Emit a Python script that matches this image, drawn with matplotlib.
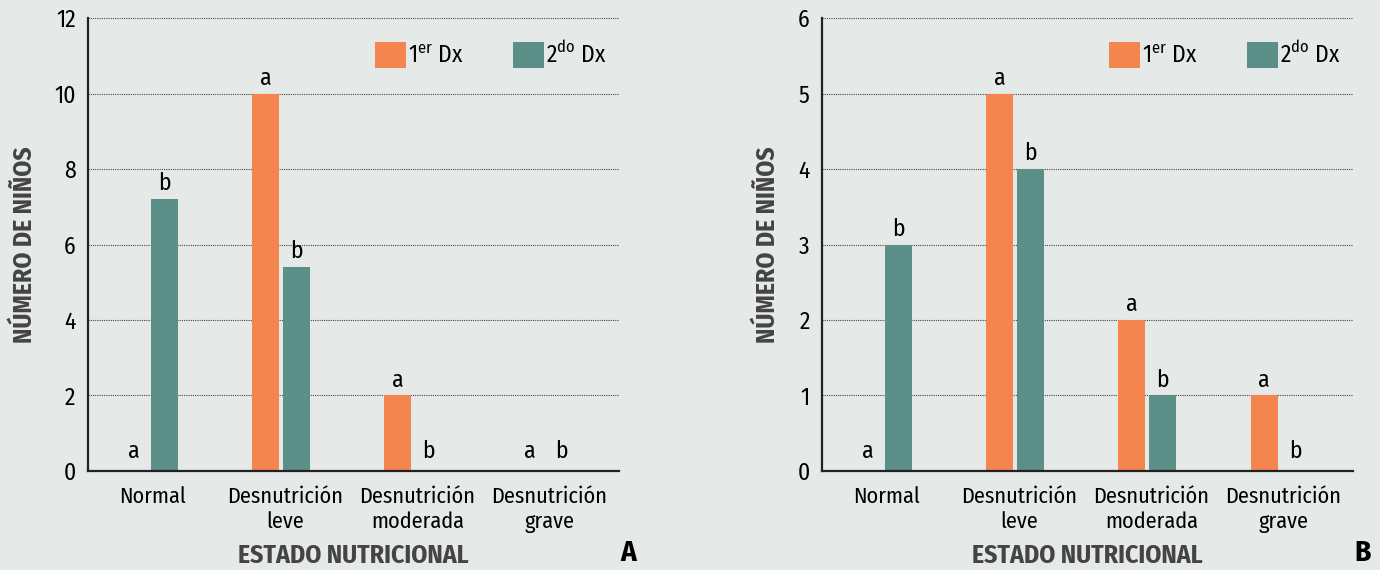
import matplotlib
matplotlib.use("Agg")
import matplotlib.pyplot as plt
import numpy as np

# data
categories = ["Normal", "Desnutrición\nleve", "Desnutrición\nmoderada", "Desnutrición\ngrave"]
a_primer = [0, 10, 2, 0]
a_segundo = [7.2, 5.4, 0, 0]
b_primer = [0, 5, 2, 1]
b_segundo = [3, 4, 1, 0]
letras_primer = ["a", "a", "a", "a"]
letras_segundo = ["b", "b", "b", "b"]
a_yticks = [0, 2, 4, 6, 8, 10, 12]
b_yticks = [0, 1, 2, 3, 4, 5, 6]
series_labels = ["1$^{\\mathrm{er}}$ Dx", "2$^{\\mathrm{do}}$ Dx"]

BG = "#e5e9e7"
ORANGE = "#f5854f"
TEAL = "#5c8f87"
FONT = ["Fira Sans Condensed", "Roboto Condensed", "PT Sans Narrow", "Liberation Sans", "DejaVu Sans"]

plt.rcParams["font.family"] = FONT
plt.rcParams["mathtext.fontset"] = "custom"
plt.rcParams["mathtext.rm"] = "Fira Sans Condensed"


def draw_panel(ax, primer, segundo, yticks, panel_letter, letter_x):
    x = np.arange(len(categories))
    width = 0.204
    off = 0.117
    ax.set_facecolor(BG)
    b1 = ax.bar(x - off, primer, width, color=ORANGE, label=series_labels[0], zorder=3)
    b2 = ax.bar(x + off, segundo, width, color=TEAL, label=series_labels[1], zorder=3)
    for xi, v, t in zip(x - off, primer, letras_primer):
        ax.annotate(t, (xi, v), xytext=(0, 6 if v == 0 else 3), textcoords="offset points",
                    ha="center", va="bottom", fontsize=17)
    for xi, v, t in zip(x + off, segundo, letras_segundo):
        ax.annotate(t, (xi, v), xytext=(0, 6 if v == 0 else 3), textcoords="offset points",
                    ha="center", va="bottom", fontsize=17)

    ax.set_xlim(-0.46, 3.556)
    ax.set_ylim(0, yticks[-1])
    ax.set_yticks(yticks)
    ax.set_xticks(x + 0.03)
    ax.set_xticklabels(categories, fontsize=16, linespacing=1.2)
    ax.tick_params(axis="y", length=0, pad=9, labelsize=17)
    ax.tick_params(axis="x", length=0, pad=11)
    ax.yaxis.grid(True, linestyle=(0, (1, 1)), color="#444444", lw=0.8)
    ax.set_axisbelow(True)
    for s in ["top", "right"]:
        ax.spines[s].set_visible(False)
    for s in ["left", "bottom"]:
        ax.spines[s].set_linewidth(1.6)
        ax.spines[s].set_color("#222222")
        ax.spines[s].set_zorder(4)

    ax.set_ylabel("NÚMERO DE NIÑOS", fontsize=18.5, fontweight="bold", color="#444444", labelpad=12)
    ax.set_xlabel("ESTADO NUTRICIONAL", fontsize=18.5, fontweight="bold", color="#444444", labelpad=7.5)

    ax.legend(handles=[b1, b2], loc="upper right", bbox_to_anchor=(0.977, 0.951), ncol=2,
              frameon=False, fontsize=17, handlelength=1.31, handleheight=1.31,
              handletextpad=0.1, columnspacing=2.1, borderpad=0, borderaxespad=0)

    ax.figure.text(letter_x, 0.03, panel_letter, fontsize=21, fontweight="bold",
                   ha="center", va="center")


fig = plt.figure(figsize=(13.8, 5.7), dpi=100, facecolor=BG)
ax_a = fig.add_axes([0.0638, 0.1737, 0.3848, 0.7947])
ax_b = fig.add_axes([0.5957, 0.1737, 0.3848, 0.7947])

draw_panel(ax_a, a_primer, a_segundo, a_yticks, "A", 0.455)
draw_panel(ax_b, b_primer, b_segundo, b_yticks, "B", 0.9877)

fig.savefig("out.png", dpi=100, facecolor=BG)
